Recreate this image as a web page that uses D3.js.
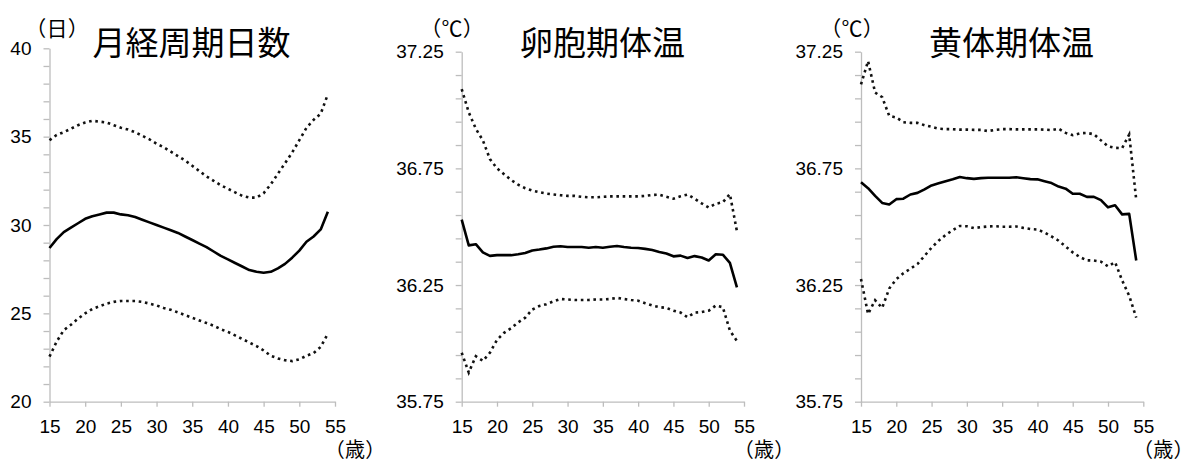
<!DOCTYPE html>
<html>
<head>
<meta charset="utf-8">
<script src="https://cdn.jsdelivr.net/npm/d3@7"></script>
<style>
  body { margin: 0; background: #fff; }
  svg { display: block; }
</style>
</head>
<body>
<script>
// ages on the x axis
var ages = d3.range(15, 55);

// 月経周期日数 (days)
var cycleMean = [28.7, 29.2, 29.6, 29.85, 30.1, 30.35, 30.5, 30.6, 30.7, 30.7,
  30.6, 30.55, 30.45, 30.3, 30.15, 30.0, 29.85, 29.7, 29.55, 29.35,
  29.15, 28.95, 28.75, 28.5, 28.25, 28.05, 27.85, 27.65, 27.45, 27.35,
  27.3, 27.35, 27.55, 27.8, 28.15, 28.55, 29.05, 29.35, 29.75, 30.75];
var cycleUpper = [34.8, 35.1, 35.25, 35.45, 35.65, 35.8, 35.9, 35.85, 35.8, 35.65,
  35.5, 35.4, 35.25, 35.05, 34.85, 34.6, 34.4, 34.15, 33.9, 33.65,
  33.35, 33.05, 32.75, 32.5, 32.25, 32.05, 31.85, 31.65, 31.55, 31.55,
  31.8, 32.3, 32.9, 33.5, 34.1, 34.8, 35.5, 35.95, 36.3, 37.4];
var cycleLower = [22.55, 23.4, 24.05, 24.35, 24.7, 25.0, 25.25, 25.4, 25.55, 25.65,
  25.7, 25.7, 25.7, 25.65, 25.55, 25.45, 25.3, 25.2, 25.05, 24.9,
  24.75, 24.6, 24.45, 24.3, 24.1, 23.95, 23.75, 23.55, 23.35, 23.15,
  22.9, 22.6, 22.45, 22.35, 22.3, 22.4, 22.6, 22.75, 23.1, 23.85];

// 卵胞期体温 (°C)
var follMean = [36.53, 36.42, 36.425, 36.39, 36.375, 36.378, 36.378, 36.378, 36.382, 36.387,
  36.398, 36.402, 36.407, 36.414, 36.416, 36.413, 36.413, 36.413, 36.41, 36.413,
  36.41, 36.414, 36.417, 36.413, 36.41, 36.409, 36.405, 36.4, 36.392, 36.385,
  36.373, 36.376, 36.366, 36.374, 36.368, 36.355, 36.382, 36.38, 36.345, 36.24];
var follUpper = [37.09, 36.99, 36.92, 36.87, 36.79, 36.75, 36.725, 36.7, 36.68, 36.665,
  36.655, 36.648, 36.642, 36.638, 36.635, 36.632, 36.632, 36.628, 36.626, 36.626,
  36.628, 36.63, 36.63, 36.63, 36.63, 36.63, 36.632, 36.636, 36.637, 36.628,
  36.62, 36.63, 36.638, 36.62, 36.6, 36.582, 36.598, 36.605, 36.64, 36.48];
var follLower = [35.96, 35.875, 35.945, 35.925, 35.96, 36.015, 36.045, 36.065, 36.09, 36.11,
  36.145, 36.16, 36.168, 36.18, 36.19, 36.188, 36.186, 36.186, 36.186, 36.188,
  36.188, 36.19, 36.195, 36.19, 36.186, 36.183, 36.172, 36.162, 36.155, 36.152,
  36.14, 36.132, 36.112, 36.132, 36.134, 36.14, 36.162, 36.155, 36.055, 36.01];

// 黄体期体温 (°C)
var lutMean = [36.69, 36.665, 36.632, 36.602, 36.595, 36.618, 36.62, 36.638, 36.645, 36.66,
  36.677, 36.686, 36.695, 36.703, 36.713, 36.708, 36.705, 36.708, 36.71, 36.71,
  36.71, 36.71, 36.712, 36.708, 36.704, 36.703, 36.695, 36.687, 36.672, 36.663,
  36.641, 36.641, 36.628, 36.628, 36.614, 36.583, 36.592, 36.553, 36.555, 36.355];
var lutUpper = [37.11, 37.21, 37.075, 37.055, 36.975, 36.968, 36.948, 36.945, 36.945, 36.935,
  36.928, 36.92, 36.918, 36.918, 36.916, 36.916, 36.915, 36.915, 36.91, 36.915,
  36.918, 36.918, 36.917, 36.917, 36.917, 36.917, 36.916, 36.914, 36.92, 36.902,
  36.892, 36.9, 36.902, 36.896, 36.87, 36.845, 36.838, 36.837, 36.895, 36.615];
var lutLower = [36.276, 36.126, 36.185, 36.152, 36.235, 36.275, 36.3, 36.32, 36.34, 36.375,
  36.41, 36.44, 36.465, 36.485, 36.503, 36.502, 36.494, 36.498, 36.501, 36.502,
  36.5, 36.5, 36.501, 36.495, 36.49, 36.488, 36.475, 36.458, 36.44, 36.415,
  36.39, 36.37, 36.356, 36.355, 36.35, 36.33, 36.348, 36.27, 36.204, 36.11];

var xTicks = [15, 20, 25, 30, 35, 40, 45, 50, 55];

var panels = [
  { title: "月経周期日数", unit: "（日）", mean: cycleMean, upper: cycleUpper, lower: cycleLower,
    yMin: 20, yMax: 40, minorStep: 1, majorEvery: 5, digits: 0,
    x0: 49.5, x1: 335, top: 48.3, bottom: 401.7, titleX: 191.5, unitX: 35 },
  { title: "卵胞期体温", unit: "（℃）", mean: follMean, upper: follUpper, lower: follLower,
    yMin: 35.75, yMax: 37.25, minorStep: 0.1, majorEvery: 5, digits: 2,
    x0: 461.7, x1: 744, top: 51.7, bottom: 401.7, titleX: 602.5, unitX: 430 },
  { title: "黄体期体温", unit: "（℃）", mean: lutMean, upper: lutUpper, lower: lutLower,
    yMin: 35.75, yMax: 37.25, minorStep: 0.1, majorEvery: 5, digits: 2,
    x0: 861, x1: 1143.3, top: 51.7, bottom: 401.7, titleX: 1011.5, unitX: 830 }
];

var numFont = "'Liberation Sans', Arial, sans-serif";
var jpFont = "'Noto Sans CJK JP', sans-serif";
var axisColor = "#bdbdbd";

var svg = d3.select("body").append("svg")
  .attr("width", 1187)
  .attr("height", 464);

panels.forEach(function(p) {
  var x = d3.scaleLinear().domain([15, 55]).range([p.x0, p.x1]);
  var y = d3.scaleLinear().domain([p.yMin, p.yMax]).range([p.bottom, p.top]);

  var n = Math.round((p.yMax - p.yMin) / p.minorStep);
  var yTicks = d3.range(n + 1).map(function(i) { return p.yMin + i * p.minorStep; });

  var yAxis = svg.append("g")
    .attr("transform", "translate(" + p.x0 + ",0)")
    .call(d3.axisLeft(y)
      .tickValues(yTicks)
      .tickSize(6)
      .tickSizeOuter(0)
      .tickPadding(12)
      .tickFormat(function(d, i) { return i % p.majorEvery === 0 ? d.toFixed(p.digits) : ""; }));

  var xAxis = svg.append("g")
    .attr("transform", "translate(0," + p.bottom + ")")
    .call(d3.axisBottom(x)
      .tickValues(xTicks)
      .tickSize(5)
      .tickSizeOuter(0)
      .tickPadding(13)
      .tickFormat(d3.format("d")));

  [yAxis, xAxis].forEach(function(a) {
    a.selectAll("path, line").attr("stroke", axisColor).attr("stroke-width", 1.3);
    a.selectAll("text")
      .attr("fill", "#000")
      .style("font-family", numFont)
      .style("font-size", "19px");
  });

  var line = d3.line()
    .x(function(d, i) { return x(ages[i]); })
    .y(function(d) { return y(d); });

  [p.upper, p.lower].forEach(function(s) {
    svg.append("path")
      .datum(s)
      .attr("d", line)
      .attr("fill", "none")
      .attr("stroke", "#111")
      .attr("stroke-width", 2.6)
      .attr("stroke-dasharray", "2.6,3.7");
  });

  svg.append("path")
    .datum(p.mean)
    .attr("d", line)
    .attr("fill", "none")
    .attr("stroke", "#000")
    .attr("stroke-width", 2.6)
    .attr("stroke-linejoin", "round");

  // titles and unit labels
  svg.append("text")
    .attr("x", p.titleX)
    .attr("y", 55)
    .attr("text-anchor", "middle")
    .style("font-family", jpFont)
    .style("font-size", "33px")
    .text(p.title);

  svg.append("text")
    .attr("x", p.unitX)
    .attr("y", 36)
    .style("font-family", jpFont)
    .style("font-size", "21px")
    .style("letter-spacing", "1px")
    .style("font-feature-settings", "'palt'")
    .text(p.unit);

  svg.append("text")
    .attr("x", p.x1 - 1)
    .attr("y", 457)
    .style("font-family", jpFont)
    .style("font-size", "20px")
    .style("letter-spacing", "1px")
    .style("font-feature-settings", "'palt'")
    .text("（歳）");
});
</script>
</body>
</html>
